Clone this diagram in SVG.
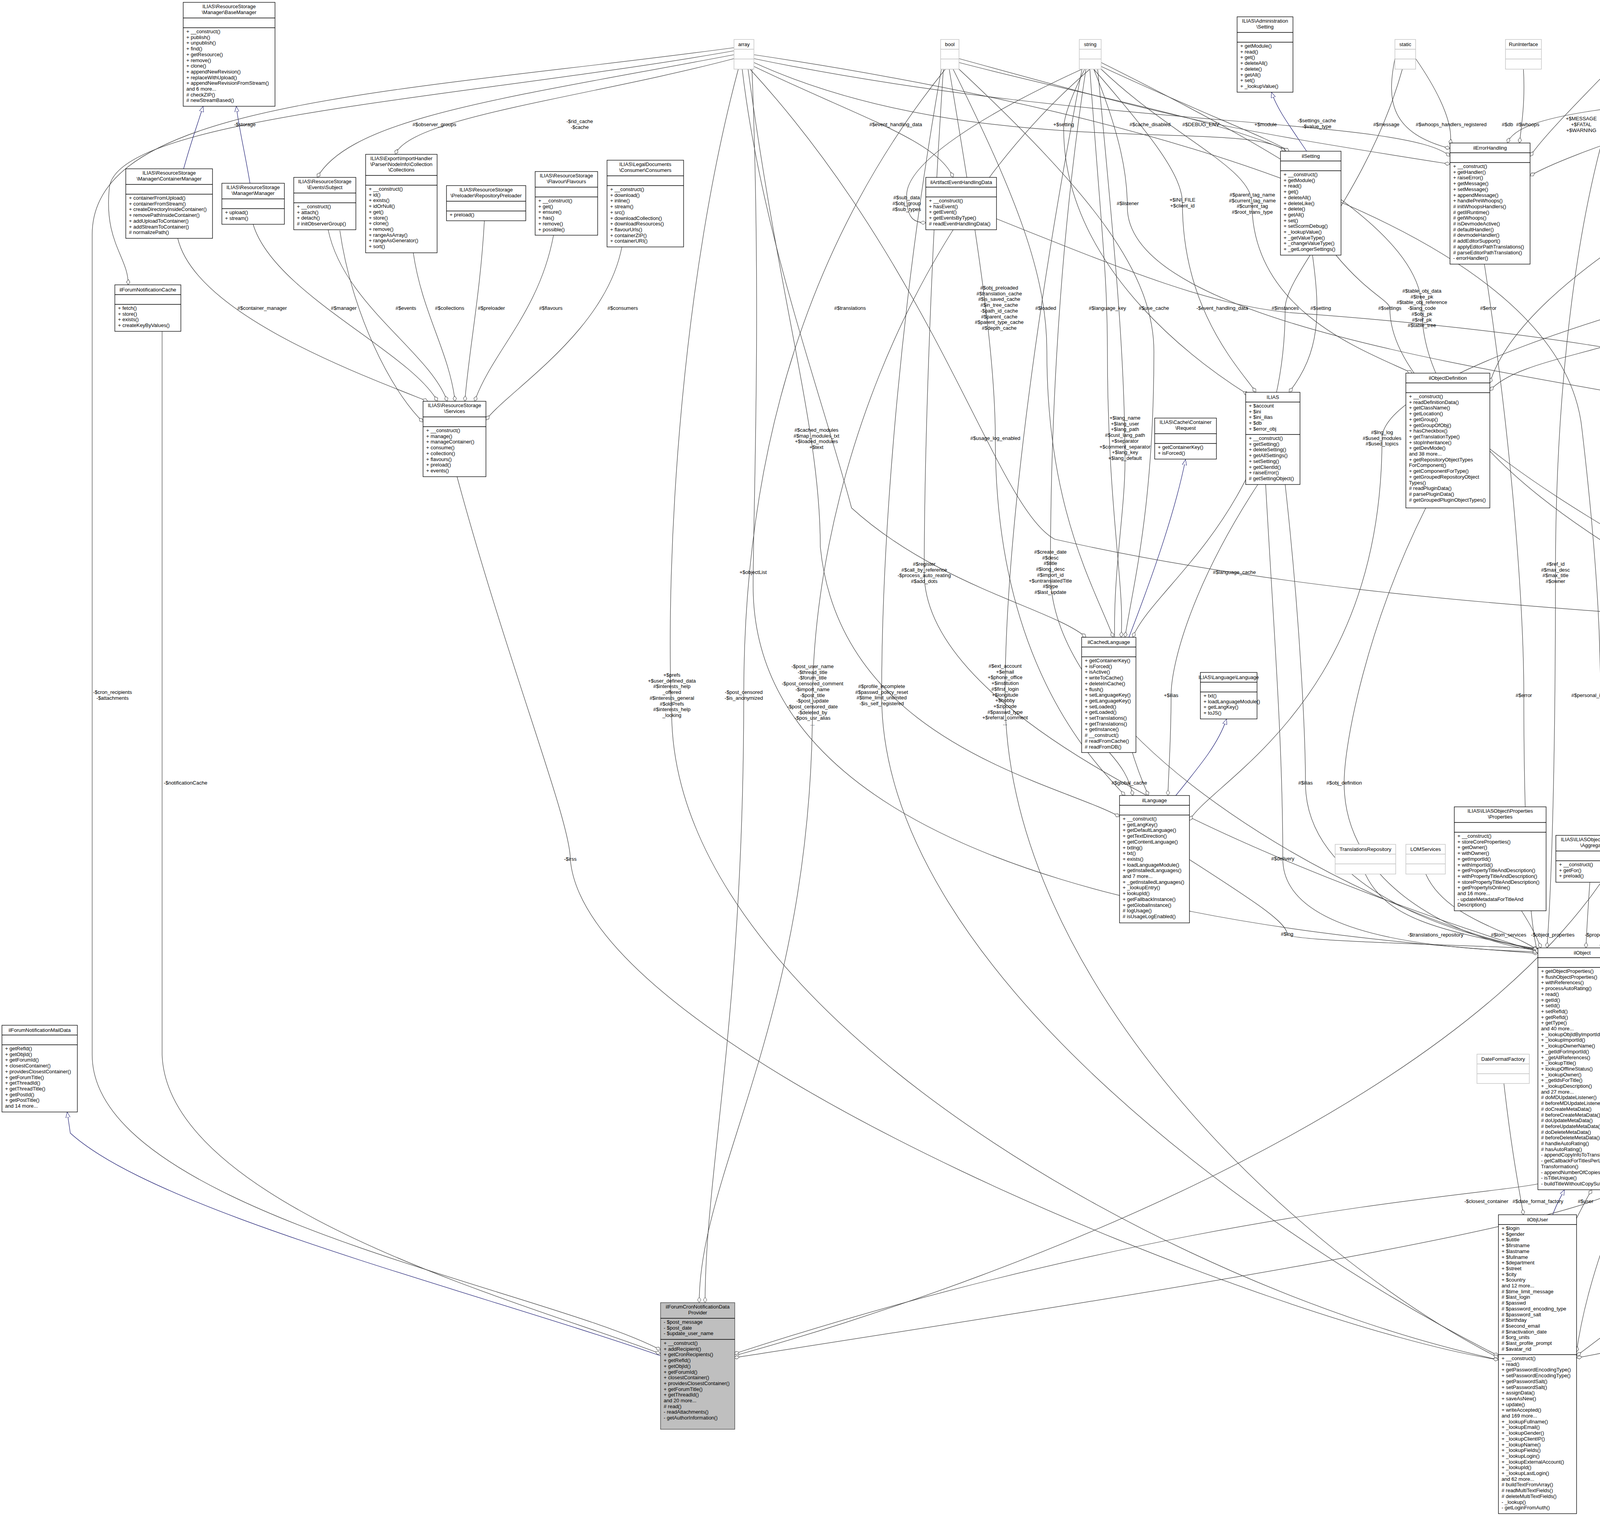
<svg xmlns="http://www.w3.org/2000/svg" width="5996" height="3880" viewBox="0 0 5996 3880">
<style>
.n{fill:#fff;stroke:#000;stroke-width:1.3}
.s{fill:#fff;stroke:#bfbfbf;stroke-width:1.3}
.g{fill:#bfbfbf;stroke:#404040;stroke-width:1.3}
.d{stroke:#000;stroke-width:1.3}
.ds{stroke:#bfbfbf;stroke-width:1.3}
text{font-family:"Liberation Sans",Arial,sans-serif;font-size:13px;fill:#000}
.c{text-anchor:middle}
.e{fill:none;stroke:#404040;stroke-width:1.2;marker-end:url(#dia)}
.i{fill:none;stroke:#191970;stroke-width:1.2;marker-end:url(#tri)}
</style>
<defs>
<marker id="dia" viewBox="0 0 14 10" refX="14" refY="5" markerWidth="14" markerHeight="10" markerUnits="userSpaceOnUse" orient="auto"><path d="M0,5 L7,0.5 L14,5 L7,9.5 z" fill="#fff" stroke="#404040" stroke-width="1"/></marker>
<marker id="tri" viewBox="0 0 14 12" refX="14" refY="6" markerWidth="14" markerHeight="12" markerUnits="userSpaceOnUse" orient="auto"><path d="M0,0.5 L14,6 L0,11.5 z" fill="#fff" stroke="#191970" stroke-width="1"/></marker>
</defs>
<rect x="0" y="0" width="5996" height="3880" fill="#fff"/>

<g id="connectors">
<path class="i" d="M470 432 C490 360 505 320 520 272"/>
<path class="i" d="M640 469 C625 380 610 320 605 272"/>
<path class="i" d="M3345 387 C3300 320 3270 280 3255 236"/>
<path class="i" d="M2890 1631 C2960 1450 3010 1300 3035 1176"/>
<path class="i" d="M3010 2036 C3080 1950 3120 1900 3140 1840"/>
<path class="i" d="M3975 3109 C3985 3080 3995 3065 4005 3045"/>
<path class="i" d="M1691 3470 C1200 3300 400 3100 180 2900 L172 2846"/>
<path class="e" d="M455 610 C500 800 900 950 1095 1027"/>
<path class="e" d="M648 574 C700 750 1050 900 1120 1027"/>
<path class="e" d="M840 588 C880 780 1100 900 1145 1027"/>
<path class="e" d="M1058 647 C1080 800 1150 900 1165 1027"/>
<path class="e" d="M1240 565 C1230 750 1200 900 1190 1027"/>
<path class="e" d="M1417 602 C1380 800 1260 900 1215 1027"/>
<path class="e" d="M1592 632 C1550 850 1300 1000 1244 1075"/>
<path class="e" d="M870 590 C900 800 1000 1000 1083 1080"/>
<path class="e" d="M1879 140 C1300 250 900 300 812 454"/>
<path class="e" d="M1879 150 C1500 250 1050 300 1012 395"/>
<path class="e" d="M1879 130 C1200 250 300 300 280 480 C265 620 330 660 328 729"/>
<path class="e" d="M1879 122 C1000 240 236 260 236 600 L236 2700 C236 3100 1400 3300 1691 3455"/>
<path class="e" d="M1930 170 C2200 300 2400 360 2440 454"/>
<path class="e" d="M1930 160 C2500 420 3200 300 3290 387"/>
<path class="e" d="M1930 150 C2800 330 3600 300 3712 400"/>
<path class="e" d="M1900 177 C1950 600 2100 1000 2180 1300 C2400 1500 2700 1560 2780 1631"/>
<path class="e" d="M1915 177 C2000 800 2100 1100 2100 1400 C2150 1900 2700 2000 2866 2090"/>
<path class="e" d="M1890 177 C1750 700 1700 1400 1720 1850 C1750 2600 3000 3300 3836 3480"/>
<path class="e" d="M1920 177 C2400 700 2550 1300 2700 1380 C3500 1560 4300 1560 4556 1610"/>
<path class="e" d="M1925 177 C1950 800 1928 1300 1928 1500 C1928 2300 3400 2400 3937 2440"/>
<path class="e" d="M2420 177 C2000 700 1904 1300 1904 1780 C1904 2600 1805 3000 1805 3334"/>
<path class="e" d="M2455 160 C2800 250 3100 300 3300 387"/>
<path class="e" d="M2440 177 C2600 500 2680 700 2680 900 C2680 1300 2800 1500 2850 1631"/>
<path class="e" d="M2455 177 C2800 500 2954 700 2954 900 C2954 1300 2900 1500 2880 1631"/>
<path class="e" d="M2430 177 C2500 600 2548 900 2548 1122 C2548 1700 2800 1950 2880 2036"/>
<path class="e" d="M2410 177 C2300 800 2257 1400 2257 1780 C2257 2500 3300 3200 3836 3470"/>
<path class="e" d="M2415 177 C2380 700 2366 1200 2366 1466 C2366 1900 3500 2300 3937 2436"/>
<path class="e" d="M2455 150 C3000 300 3074 320 3712 420"/>
<path class="e" d="M2790 177 C2300 600 2080 1300 2080 1800 C2080 2600 1790 3000 1790 3334"/>
<path class="e" d="M2819 170 C3100 300 3240 350 3300 387"/>
<path class="e" d="M2800 177 C2950 350 3027 450 3027 520 C3027 800 3180 950 3215 1004"/>
<path class="e" d="M2770 177 C2500 300 2321 420 2321 500 C2321 560 2340 570 2370 570"/>
<path class="e" d="M2790 177 C2820 600 2835 700 2835 900 C2835 1300 2880 1500 2870 1631"/>
<path class="e" d="M2810 177 C2850 600 2880 900 2880 1180 C2880 1400 2790 1700 2940 2036"/>
<path class="e" d="M2780 177 C2700 700 2689 1200 2689 1466 C2689 1900 3500 2350 3937 2432"/>
<path class="e" d="M2770 177 C2650 800 2573 1400 2573 1780 C2573 2500 3300 3200 3836 3475"/>
<path class="e" d="M2819 177 C3000 350 3205 430 3205 520 C3205 800 3500 900 3615 955"/>
<path class="e" d="M2819 160 C3300 400 3640 600 3640 790 C3640 1200 4300 1500 4556 1640"/>
<path class="e" d="M2800 177 C2870 350 2886 450 2886 530 C2886 900 4400 1000 4602 1110"/>
<path class="e" d="M2790 150 C2740 250 2723 300 2723 330 C2723 700 3100 950 3195 1010"/>
<path class="e" d="M3571 150 C3549 260 3560 340 3712 380"/>
<path class="e" d="M3624 150 C3700 260 3720 330 3712 370"/>
<path class="e" d="M3590 177 C3500 500 3290 700 3290 789 C3290 1300 2950 1500 2900 1631"/>
<path class="e" d="M3360 653 C3380 800 3381 900 3300 1004"/>
<path class="e" d="M3420 653 C3500 750 3558 770 3558 789 C3558 1100 4300 1450 4556 1600"/>
<path class="e" d="M2551 560 C2900 700 3100 780 3300 800 C4000 850 4600 950 4650 1070"/>
<path class="e" d="M3900 177 C3905 260 3895 320 3890 366"/>
<path class="e" d="M5589 140 C4500 260 3900 250 3859 366"/>
<path class="e" d="M4147 150 C4050 250 3950 350 3917 400"/>
<path class="e" d="M4991 150 C4400 250 4000 400 3917 450"/>
<path class="e" d="M5000 170 C4800 300 4700 350 4682 396"/>
<path class="e" d="M4991 160 C4500 400 3900 700 3814 980"/>
<path class="e" d="M5010 177 C5000 500 5010 700 5010 780 C5010 1300 4800 1500 4770 1589"/>
<path class="e" d="M5044 170 C5300 300 5345 450 5345 520 C5345 700 5320 850 5320 902"/>
<path class="e" d="M5044 160 C5400 250 5500 400 5500 520 C5500 700 5440 850 5440 902"/>
<path class="e" d="M5030 177 C5200 700 5277 1200 5277 1466 C5277 2000 4500 2400 4164 2560"/>
<path class="e" d="M5020 177 C5150 800 5144 1500 5144 1780 C5144 2600 4400 3200 4036 3470"/>
<path class="e" d="M5680 264 L5680 520 C5680 700 5526 850 5500 902"/>
<path class="e" d="M5805 264 C5805 800 5820 1200 5820 1371"/>
<path class="e" d="M5650 264 C5700 600 5717 700 5717 789 C5717 1300 5540 1500 5520 1655"/>
<path class="e" d="M5823 240 C5900 800 5970 1200 5970 1465 C5970 2400 4500 2700 4164 2720"/>
<path class="e" d="M5760 264 C5860 600 5875 700 5875 789 C5875 1200 4900 1500 4779 1620"/>
<path class="e" d="M4170 177 C4300 500 4380 700 4380 789 C4380 1300 4540 1450 4575 1589"/>
<path class="e" d="M4175 177 C4400 800 4461 1400 4461 1780 C4461 2600 4100 3000 4036 3460"/>
<path class="e" d="M4160 177 C4250 800 4262 1400 4262 1780 C4262 2700 2500 3300 1879 3470"/>
<path class="e" d="M4160 177 C4000 600 3982 1200 3982 1466 C3982 2000 3970 2300 3960 2426"/>
<path class="e" d="M1930 140 C3000 300 4000 600 4050 1100 C4097 1500 4097 1700 4097 1780 C4097 2200 4100 2350 4100 2426"/>
<path class="e" d="M4470 646 C4300 700 4249 750 4249 789 C4249 900 3900 900 3814 1000"/>
<path class="e" d="M4560 646 C4540 720 4538 760 4538 789 C4538 950 4640 1000 4650 1070"/>
<path class="e" d="M4800 567 C4740 650 4725 720 4725 789 C4725 950 4680 1000 4670 1070"/>
<path class="e" d="M4980 632 C4830 700 4806 750 4806 789 C4806 950 4700 1050 4690 1070"/>
<path class="e" d="M5050 632 C5300 700 5340 760 5340 789 C5340 850 5330 880 5330 902"/>
<path class="e" d="M5000 632 C4980 900 4973 1050 4973 1122 C4973 1500 4800 1600 4779 1650"/>
<path class="e" d="M5040 632 C5200 900 5273 1000 5273 1122 C5273 1400 5400 1550 5400 1655"/>
<path class="e" d="M5010 632 C4990 1200 4976 1500 4976 1780 C4976 2300 4300 2500 4164 2520"/>
<path class="e" d="M5020 632 C5010 1100 5012 1300 5012 1465 C5012 1600 4800 1680 4779 1700"/>
<path class="e" d="M4962 600 C4000 800 3538 1000 3538 1122 C3538 1800 3100 2000 3045 2100"/>
<path class="e" d="M4490 1234 C4600 1350 4629 1420 4629 1465 C4629 1530 4610 1570 4610 1589"/>
<path class="e" d="M4667 1175 C4700 1350 4717 1420 4717 1465 C4717 1530 4700 1570 4690 1589"/>
<path class="e" d="M4720 1175 C4800 1500 4689 1900 4689 2004 C4689 2300 4300 2400 4164 2440"/>
<path class="e" d="M5420 1344 C5425 1450 5430 1550 5430 1655"/>
<path class="e" d="M5400 1344 C5300 1600 5221 1900 5221 2004 C5221 2300 4400 2500 4164 2470"/>
<path class="e" d="M5420 1906 C5350 2050 5308 2150 5308 2198 C5308 2400 4500 2600 4164 2600"/>
<path class="e" d="M5820 1563 C5850 1900 5861 2100 5861 2198 C5861 2900 4500 3400 4036 3475"/>
<path class="e" d="M4620 1972 C4500 2100 4448 2150 4448 2198 C4448 2350 4250 2420 4164 2430"/>
<path class="e" d="M3650 1300 C3500 1600 3441 1900 3441 2004 C3441 2300 3800 2420 3937 2432"/>
<path class="e" d="M3220 1240 C3050 1500 2998 1700 2998 1780 C2998 1900 2990 2000 2990 2036"/>
<path class="e" d="M3290 1240 C3330 1600 3342 1900 3342 2004 C3342 2300 3800 2410 3937 2428"/>
<path class="e" d="M3240 1240 C3260 1600 3284 1900 3284 2198 C3284 2400 3700 2430 3937 2436"/>
<path class="e" d="M2840 1926 C2870 1960 2891 1990 2900 2036"/>
<path class="e" d="M3045 2200 C3200 2300 3295 2360 3295 2391 C3295 2410 3800 2420 3937 2428"/>
<path class="e" d="M3495 2237 C3550 2350 3675 2380 3937 2430"/>
<path class="e" d="M3650 2237 C3700 2350 3863 2380 3937 2432"/>
<path class="e" d="M3895 2331 C3920 2370 3935 2400 3945 2426"/>
<path class="e" d="M4070 2258 C4065 2330 4062 2380 4060 2426"/>
<path class="e" d="M3800 676 C3880 1200 3901 1600 3901 1780 C3901 2200 3920 2380 3937 2440"/>
<path class="e" d="M3937 3030 C3800 3060 3000 3100 1879 3465"/>
<path class="e" d="M3850 2773 C3870 2950 3890 3050 3900 3109"/>
<path class="e" d="M4030 3130 C4050 3090 4060 3070 4075 3045"/>
<path class="e" d="M4164 3000 C4300 3100 3000 3300 1879 3475"/>
<path class="e" d="M1170 1220 C1300 1700 1460 2100 1460 2199 C1500 2700 3300 3400 3836 3480"/>
<path class="e" d="M415 848 C415 1200 415 1800 415 2004 L415 2700 C430 3100 1400 3350 1691 3465"/>
</g>

<g id="labels">
<text class="c" x="627" y="323">-$storage</text>
<text class="c" x="1112" y="323">#$observer_groups</text>
<text class="c" x="1484" y="315">-$rid_cache<tspan x="1484" dy="15">-$cache</tspan></text>
<text class="c" x="671" y="793">#$container_manager</text>
<text class="c" x="880" y="793">#$manager</text>
<text class="c" x="1039" y="793">#$events</text>
<text class="c" x="1151" y="793">#$collections</text>
<text class="c" x="1258" y="793">#$preloader</text>
<text class="c" x="1410" y="793">#$flavours</text>
<text class="c" x="1594" y="793">#$consumers</text>
<text class="c" x="2293" y="323">#$event_handling_data</text>
<text class="c" x="2723" y="323">+$setting</text>
<text class="c" x="2944" y="323">#$cache_disabled</text>
<text class="c" x="3074" y="323">#$DEBUG_ENV</text>
<text class="c" x="3240" y="323">+$module</text>
<text class="c" x="3371" y="313">-$settings_cache<tspan x="3371" dy="15">-$value_type</tspan></text>
<text class="c" x="3549" y="323">#$message</text>
<text class="c" x="3715" y="323">#$whoops_handlers_registered</text>
<text class="c" x="3859" y="323">#$db</text>
<text class="c" x="3911" y="323">#$whoops</text>
<text class="c" x="4048" y="308">+$MESSAGE<tspan x="4048" dy="15">+$FATAL</tspan><tspan x="4048" dy="15">+$WARNING</tspan></text>
<text class="c" x="4309" y="315">-SENSITIVE_PARAMETER<tspan x="4309" dy="15">_NAMES</tspan></text>
<text class="c" x="4809" y="323">+PLUGIN_BASE_PATH</text>
<text class="c" x="4370" y="512">+MODE_REPOSITORY<tspan x="4370" dy="15">+MODE_ADMINISTRATION</tspan><tspan x="4370" dy="15">+MODE_WORKSPACE</tspan></text>
<text class="c" x="5345" y="510">#$is_assigned_cache<tspan x="5345" dy="15">-$_opsCache</tspan><tspan x="5345" dy="15">#$assigned_users_cache</tspan></text>
<text class="c" x="5500" y="487">+FILTER_NOT_INTERNAL<tspan x="5500" dy="15">+FILTER_ALL_GLOBAL</tspan><tspan x="5500" dy="15">+FILTER_ALL</tspan><tspan x="5500" dy="15">+FILTER_INTERNAL</tspan><tspan x="5500" dy="15">+FILTER_TEMPLATES</tspan><tspan x="5500" dy="15">+FILTER_ALL_LOCAL</tspan></text>
<text class="c" x="5680" y="524">#$db</text>
<text class="c" x="5805" y="524">+TABLE_NAME</text>
<text class="c" x="2321" y="510">#$sub_data<tspan x="2321" dy="15">#$obj_group</tspan><tspan x="2321" dy="15">#$sub_types</tspan></text>
<text class="c" x="2887" y="525">#$listener</text>
<text class="c" x="3027" y="516">+$INI_FILE<tspan x="3027" dy="15">+$client_id</tspan></text>
<text class="c" x="3206" y="503">#$parent_tag_name<tspan x="3206" dy="14.7">#$current_tag_name</tspan><tspan x="3206" dy="14.7">#$current_tag</tspan><tspan x="3206" dy="14.7">#$root_trans_type</tspan></text>
<text class="c" x="2176" y="793">#$translations</text>
<text class="c" x="2558" y="741">#$obj_preloaded<tspan x="2558" dy="14.7">#$translation_cache</tspan><tspan x="2558" dy="14.7">#$is_saved_cache</tspan><tspan x="2558" dy="14.7">#$in_tree_cache</tspan><tspan x="2558" dy="14.7">-$path_id_cache</tspan><tspan x="2558" dy="14.7">#$parent_cache</tspan><tspan x="2558" dy="14.7">#$parent_type_cache</tspan><tspan x="2558" dy="14.7">#$depth_cache</tspan></text>
<text class="c" x="2677" y="793">#$loaded</text>
<text class="c" x="2835" y="793">#$language_key</text>
<text class="c" x="2954" y="793">#$use_cache</text>
<text class="c" x="3129" y="793">-$event_handling_data</text>
<text class="c" x="3290" y="793">#$instances</text>
<text class="c" x="3381" y="793">#$setting</text>
<text class="c" x="3558" y="793">#$settings</text>
<text class="c" x="3640" y="749">#$table_obj_data<tspan x="3640" dy="14.7">#$tree_pk</tspan><tspan x="3640" dy="14.7">#$table_obj_reference</tspan><tspan x="3640" dy="14.7">-$lang_code</tspan><tspan x="3640" dy="14.7">#$obj_pk</tspan><tspan x="3640" dy="14.7">#$ref_pk</tspan><tspan x="3640" dy="14.7">#$table_tree</tspan></text>
<text class="c" x="3810" y="793">#$error</text>
<text class="c" x="4249" y="793">#$component_repository</text>
<text class="c" x="4380" y="778">#$tree_id<tspan x="4380" dy="15">-$gap</tspan><tspan x="4380" dy="15">#$root_id</tspan></text>
<text class="c" x="4538" y="793">#$component_repository</text>
<text class="c" x="4725" y="793">#$component_factory</text>
<text class="c" x="4806" y="793">#$logger</text>
<text class="c" x="5010" y="712">+TREE_TYPE_NESTED_SET<tspan x="5010" dy="14.7">+RELATION_PARENT</tspan><tspan x="5010" dy="14.7">+RELATION_CHILD</tspan><tspan x="5010" dy="14.7">+TREE_TYPE_MATERIALIZED</tspan><tspan x="5010" dy="14.7">_PATH</tspan><tspan x="5010" dy="14.7">#DEFAULT_LANGUAGE</tspan><tspan x="5010" dy="14.7">+RELATION_SIBLING</tspan><tspan x="5010" dy="14.7">+POS_FIRST_NODE</tspan><tspan x="5010" dy="14.7">+RELATION_EQUALS</tspan><tspan x="5010" dy="14.7">+POS_LAST_NODE</tspan><tspan x="5010" dy="14.7">+RELATION_NONE</tspan><tspan x="5010" dy="14.7">...</tspan></text>
<text class="c" x="5340" y="793">#$log</text>
<text class="c" x="5717" y="793">#$db</text>
<text class="c" x="5875" y="793">#$db</text>
<text class="c" x="2090" y="1105">#$cached_modules<tspan x="2090" dy="14.7">#$map_modules_txt</tspan><tspan x="2090" dy="14.7">+$loaded_modules</tspan><tspan x="2090" dy="14.7">+$text</tspan></text>
<text class="c" x="2548" y="1126">#$usage_log_enabled</text>
<text class="c" x="2880" y="1074">+$lang_name<tspan x="2880" dy="14.7">+$lang_user</tspan><tspan x="2880" dy="14.7">+$lang_path</tspan><tspan x="2880" dy="14.7">#$cust_lang_path</tspan><tspan x="2880" dy="14.7">+$separator</tspan><tspan x="2880" dy="14.7">+$comment_separator</tspan><tspan x="2880" dy="14.7">+$lang_key</tspan><tspan x="2880" dy="14.7">+$lang_default</tspan></text>
<text class="c" x="3538" y="1111">#$lng_log<tspan x="3538" dy="14.7">#$used_modules</tspan><tspan x="3538" dy="14.7">#$used_topics</tspan></text>
<text class="c" x="4973" y="1126">#$logger</text>
<text class="c" x="5273" y="1126">#$logger</text>
<text class="c" x="1928" y="1469">+$objectList</text>
<text class="c" x="2366" y="1448">#$register<tspan x="2366" dy="14.7">#$call_by_reference</tspan><tspan x="2366" dy="14.7">-$process_auto_reating</tspan><tspan x="2366" dy="14.7">#$add_dots</tspan></text>
<text class="c" x="2689" y="1417">#$create_date<tspan x="2689" dy="14.7">#$desc</tspan><tspan x="2689" dy="14.7">#$title</tspan><tspan x="2689" dy="14.7">#$long_desc</tspan><tspan x="2689" dy="14.7">#$import_id</tspan><tspan x="2689" dy="14.7">+$untranslatedTitle</tspan><tspan x="2689" dy="14.7">#$type</tspan><tspan x="2689" dy="14.7">#$last_update</tspan></text>
<text class="c" x="3160" y="1469">#$language_cache</text>
<text class="c" x="3982" y="1448">#$ref_id<tspan x="3982" dy="14.7">#$max_desc</tspan><tspan x="3982" dy="14.7">#$max_title</tspan><tspan x="3982" dy="14.7">#$owner</tspan></text>
<text class="c" x="4629" y="1469">-$tree_impl</text>
<text class="c" x="4717" y="1469">#$eventHandler</text>
<text class="c" x="5012" y="1469">#$log</text>
<text class="c" x="5277" y="1448">+TABLE_OBJECT_DATA<tspan x="5277" dy="14.7">+LONG_DESC_LENGTH</tspan><tspan x="5277" dy="14.7">+TITLE_LENGTH</tspan><tspan x="5277" dy="14.7">+DESC_LENGTH</tspan></text>
<text class="c" x="5476" y="1469">#$rbacreview</text>
<text class="c" x="5970" y="1469">#$db</text>
<text class="c" x="288" y="1776">-$cron_recipients<tspan x="288" dy="15">-$attachments</tspan></text>
<text class="c" x="1720" y="1732">+$prefs<tspan x="1720" dy="14.7">+$user_defined_data</tspan><tspan x="1720" dy="14.7">#$interests_help</tspan><tspan x="1720" dy="14.7">_offered</tspan><tspan x="1720" dy="14.7">#$interests_general</tspan><tspan x="1720" dy="14.7">#$oldPrefs</tspan><tspan x="1720" dy="14.7">#$interests_help</tspan><tspan x="1720" dy="14.7">_looking</tspan></text>
<text class="c" x="1904" y="1776">-$post_censored<tspan x="1904" dy="15">-$is_anonymized</tspan></text>
<text class="c" x="2080" y="1710">-$post_user_name<tspan x="2080" dy="14.7">-$thread_title</tspan><tspan x="2080" dy="14.7">-$forum_title</tspan><tspan x="2080" dy="14.7">-$post_censored_comment</tspan><tspan x="2080" dy="14.7">-$import_name</tspan><tspan x="2080" dy="14.7">-$post_title</tspan><tspan x="2080" dy="14.7">-$post_update</tspan><tspan x="2080" dy="14.7">-$post_censored_date</tspan><tspan x="2080" dy="14.7">-$deleted_by</tspan><tspan x="2080" dy="14.7">-$pos_usr_alias</tspan><tspan x="2080" dy="14.7">...</tspan></text>
<text class="c" x="2257" y="1761">#$profile_incomplete<tspan x="2257" dy="14.7">#$passwd_policy_reset</tspan><tspan x="2257" dy="14.7">#$time_limit_unlimited</tspan><tspan x="2257" dy="14.7">-$is_self_registered</tspan></text>
<text class="c" x="2573" y="1709">#$ext_account<tspan x="2573" dy="14.7">+$email</tspan><tspan x="2573" dy="14.7">+$phone_office</tspan><tspan x="2573" dy="14.7">+$institution</tspan><tspan x="2573" dy="14.7">#$first_login</tspan><tspan x="2573" dy="14.7">+$longitude</tspan><tspan x="2573" dy="14.7">+$hobby</tspan><tspan x="2573" dy="14.7">+$zipcode</tspan><tspan x="2573" dy="14.7">#$passwd_type</tspan><tspan x="2573" dy="14.7">+$referral_comment</tspan><tspan x="2573" dy="14.7">...</tspan></text>
<text class="c" x="2998" y="1784">+$ilias</text>
<text class="c" x="3901" y="1784">#$error</text>
<text class="c" x="4097" y="1784">#$personal_image_cache</text>
<text class="c" x="4262" y="1717">-$pos_display_user<tspan x="4262" dy="14.7">_id</tspan><tspan x="4262" dy="14.7">-$thread_id</tspan><tspan x="4262" dy="14.7">-$post_id</tspan><tspan x="4262" dy="14.7">-$obj_id</tspan><tspan x="4262" dy="14.7">-$forum_id</tspan><tspan x="4262" dy="14.7">-$post_update</tspan><tspan x="4262" dy="14.7">_user_id</tspan><tspan x="4262" dy="14.7">-$ref_id</tspan><tspan x="4262" dy="14.7">-$pos_author_id</tspan></text>
<text class="c" x="4461" y="1747">#$time_limit_owner<tspan x="4461" dy="14.7">+$active</tspan><tspan x="4461" dy="14.7">#$time_limit_from</tspan><tspan x="4461" dy="14.7">#$time_limit_until</tspan><tspan x="4461" dy="14.7">-$login_attempts</tspan><tspan x="4461" dy="14.7">+$last_password_change_ts</tspan></text>
<text class="c" x="4976" y="1776">#$obj_log<tspan x="4976" dy="15">#$log</tspan></text>
<text class="c" x="5144" y="1768">+PASSWD_CRYPTED<tspan x="5144" dy="15">+NO_AVATAR_RID</tspan><tspan x="5144" dy="15">+PASSWD_PLAIN</tspan></text>
<text class="c" x="475" y="2008">-$notificationCache</text>
<text class="c" x="2891" y="2008">#$global_cache</text>
<text class="c" x="3342" y="2008">#$ilias</text>
<text class="c" x="3441" y="2008">#$obj_definition</text>
<text class="c" x="4689" y="2008">#$app_event_handler</text>
<text class="c" x="5221" y="2008">#$rbac_review</text>
<text class="c" x="1460" y="2203">-$irss</text>
<text class="c" x="3284" y="2202">#$delivery</text>
<text class="c" x="4448" y="2202">#$tree</text>
<text class="c" x="5308" y="2202">#$rbac_admin</text>
<text class="c" x="5861" y="2194">-$cron_delete_user<tspan x="5861" dy="15">_reminder_mail</tspan></text>
<text class="c" x="3295" y="2395">#$lng</text>
<text class="c" x="3675" y="2397">-$translations_repository</text>
<text class="c" x="3862" y="2397">#$lom_services</text>
<text class="c" x="3975" y="2397">-$object_properties</text>
<text class="c" x="4127" y="2397">-$properties_aggregator</text>
<text class="c" x="3805" y="3079">-$closest_container</text>
<text class="c" x="3937" y="3079">#$date_format_factory</text>
<text class="c" x="4059" y="3079">#$user</text>
</g>

<g id="BaseManager"><rect class="n" x="469" y="6" width="235" height="266"/><line class="d" x1="469" y1="46" x2="704" y2="46"/><line class="d" x1="469" y1="71" x2="704" y2="71"/>
<text class="c" x="586.5" y="21">ILIAS\ResourceStorage<tspan x="586.5" dy="14.7">\Manager\BaseManager</tspan></text>
<text x="477" y="85"><tspan x="477">+ __construct()</tspan><tspan x="477" dy="14.7">+ publish()</tspan><tspan x="477" dy="14.7">+ unpublish()</tspan><tspan x="477" dy="14.7">+ find()</tspan><tspan x="477" dy="14.7">+ getResource()</tspan><tspan x="477" dy="14.7">+ remove()</tspan><tspan x="477" dy="14.7">+ clone()</tspan><tspan x="477" dy="14.7">+ appendNewRevision()</tspan><tspan x="477" dy="14.7">+ replaceWithUpload()</tspan><tspan x="477" dy="14.7">+ appendNewRevisionFromStream()</tspan><tspan x="477" dy="14.7">and 6 more...</tspan><tspan x="477" dy="14.7"># checkZIP()</tspan><tspan x="477" dy="14.7"># newStreamBased()</tspan></text></g>

<g id="ContainerManager"><rect class="n" x="322" y="432" width="222" height="178"/><line class="d" x1="322" y1="472" x2="544" y2="472"/><line class="d" x1="322" y1="497" x2="544" y2="497"/>
<text class="c" x="433" y="447">ILIAS\ResourceStorage<tspan x="433" dy="14.7">\Manager\ContainerManager</tspan></text>
<text x="330" y="511"><tspan x="330">+ containerFromUpload()</tspan><tspan x="330" dy="14.7">+ containerFromStream()</tspan><tspan x="330" dy="14.7">+ createDirectoryInsideContainer()</tspan><tspan x="330" dy="14.7">+ removePathInsideContainer()</tspan><tspan x="330" dy="14.7">+ addUploadToContainer()</tspan><tspan x="330" dy="14.7">+ addStreamToContainer()</tspan><tspan x="330" dy="14.7"># normalizePath()</tspan></text></g>

<g id="Manager"><rect class="n" x="568" y="469" width="160" height="105"/><line class="d" x1="568" y1="509" x2="728" y2="509"/><line class="d" x1="568" y1="534" x2="728" y2="534"/>
<text class="c" x="648" y="484">ILIAS\ResourceStorage<tspan x="648" dy="14.7">\Manager\Manager</tspan></text>
<text x="576" y="548"><tspan x="576">+ upload()</tspan><tspan x="576" dy="14.7">+ stream()</tspan></text></g>

<g id="Subject"><rect class="n" x="752" y="454" width="159" height="134"/><line class="d" x1="752" y1="494" x2="911" y2="494"/><line class="d" x1="752" y1="519" x2="911" y2="519"/>
<text class="c" x="831.5" y="469">ILIAS\ResourceStorage<tspan x="831.5" dy="14.7">\Events\Subject</tspan></text>
<text x="760" y="533"><tspan x="760">+ __construct()</tspan><tspan x="760" dy="14.7">+ attach()</tspan><tspan x="760" dy="14.7">+ detach()</tspan><tspan x="760" dy="14.7"># initObserverGroup()</tspan></text></g>

<g id="Collections"><rect class="n" x="936" y="395" width="183" height="252"/><line class="d" x1="936" y1="449" x2="1119" y2="449"/><line class="d" x1="936" y1="474" x2="1119" y2="474"/>
<text class="c" x="1027.5" y="410">ILIAS\Export\ImportHandler<tspan x="1027.5" dy="14.7">\Parser\NodeInfo\Collection</tspan><tspan x="1027.5" dy="14.7">\Collections</tspan></text>
<text x="944" y="488"><tspan x="944">+ __construct()</tspan><tspan x="944" dy="14.7">+ id()</tspan><tspan x="944" dy="14.7">+ exists()</tspan><tspan x="944" dy="14.7">+ idOrNull()</tspan><tspan x="944" dy="14.7">+ get()</tspan><tspan x="944" dy="14.7">+ store()</tspan><tspan x="944" dy="14.7">+ clone()</tspan><tspan x="944" dy="14.7">+ remove()</tspan><tspan x="944" dy="14.7">+ rangeAsArray()</tspan><tspan x="944" dy="14.7">+ rangeAsGenerator()</tspan><tspan x="944" dy="14.7">+ sort()</tspan></text></g>

<g id="RepositoryPreloader"><rect class="n" x="1143" y="475" width="203" height="90"/><line class="d" x1="1143" y1="515" x2="1346" y2="515"/><line class="d" x1="1143" y1="540" x2="1346" y2="540"/>
<text class="c" x="1244.5" y="490">ILIAS\ResourceStorage<tspan x="1244.5" dy="14.7">\Preloader\RepositoryPreloader</tspan></text>
<text x="1151" y="554">+ preload()</text></g>

<g id="Flavours"><rect class="n" x="1370" y="439" width="160" height="163"/><line class="d" x1="1370" y1="479" x2="1530" y2="479"/><line class="d" x1="1370" y1="504" x2="1530" y2="504"/>
<text class="c" x="1450" y="454">ILIAS\ResourceStorage<tspan x="1450" dy="14.7">\Flavour\Flavours</tspan></text>
<text x="1378" y="518"><tspan x="1378">+ __construct()</tspan><tspan x="1378" dy="14.7">+ get()</tspan><tspan x="1378" dy="14.7">+ ensure()</tspan><tspan x="1378" dy="14.7">+ has()</tspan><tspan x="1378" dy="14.7">+ remove()</tspan><tspan x="1378" dy="14.7">+ possible()</tspan></text></g>

<g id="Consumers"><rect class="n" x="1554" y="410" width="196" height="222"/><line class="d" x1="1554" y1="450" x2="1750" y2="450"/><line class="d" x1="1554" y1="475" x2="1750" y2="475"/>
<text class="c" x="1652" y="425">ILIAS\LegalDocuments<tspan x="1652" dy="14.7">\Consumer\Consumers</tspan></text>
<text x="1562" y="489"><tspan x="1562">+ __construct()</tspan><tspan x="1562" dy="14.7">+ download()</tspan><tspan x="1562" dy="14.7">+ inline()</tspan><tspan x="1562" dy="14.7">+ stream()</tspan><tspan x="1562" dy="14.7">+ src()</tspan><tspan x="1562" dy="14.7">+ downloadCollection()</tspan><tspan x="1562" dy="14.7">+ downloadResources()</tspan><tspan x="1562" dy="14.7">+ flavourUrls()</tspan><tspan x="1562" dy="14.7">+ containerZIP()</tspan><tspan x="1562" dy="14.7">+ containerURI()</tspan></text></g>

<g id="ilForumNotificationCache"><rect class="n" x="294" y="729" width="169" height="119"/><line class="d" x1="294" y1="754" x2="463" y2="754"/><line class="d" x1="294" y1="779" x2="463" y2="779"/>
<text class="c" x="378.5" y="746">ilForumNotificationCache</text>
<text x="302" y="793"><tspan x="302">+ fetch()</tspan><tspan x="302" dy="14.7">+ store()</tspan><tspan x="302" dy="14.7">+ exists()</tspan><tspan x="302" dy="14.7">+ createKeyByValues()</tspan></text></g>

<g id="Services"><rect class="n" x="1083" y="1027" width="161" height="193"/><line class="d" x1="1083" y1="1067" x2="1244" y2="1067"/><line class="d" x1="1083" y1="1092" x2="1244" y2="1092"/>
<text class="c" x="1163.5" y="1042">ILIAS\ResourceStorage<tspan x="1163.5" dy="14.7">\Services</tspan></text>
<text x="1091" y="1106"><tspan x="1091">+ __construct()</tspan><tspan x="1091" dy="14.7">+ manage()</tspan><tspan x="1091" dy="14.7">+ manageContainer()</tspan><tspan x="1091" dy="14.7">+ consume()</tspan><tspan x="1091" dy="14.7">+ collection()</tspan><tspan x="1091" dy="14.7">+ flavours()</tspan><tspan x="1091" dy="14.7">+ preload()</tspan><tspan x="1091" dy="14.7">+ events()</tspan></text></g>

<g id="array"><rect class="s" x="1879" y="101" width="51" height="76"/><line class="ds" x1="1879" y1="126" x2="1930" y2="126"/><line class="ds" x1="1879" y1="151" x2="1930" y2="151"/><text class="c" x="1904.5" y="118">array</text></g>
<g id="bool"><rect class="s" x="2408" y="101" width="47" height="76"/><line class="ds" x1="2408" y1="126" x2="2455" y2="126"/><line class="ds" x1="2408" y1="151" x2="2455" y2="151"/><text class="c" x="2431.5" y="118">bool</text></g>
<g id="string"><rect class="s" x="2763" y="101" width="56" height="76"/><line class="ds" x1="2763" y1="126" x2="2819" y2="126"/><line class="ds" x1="2763" y1="151" x2="2819" y2="151"/><text class="c" x="2791" y="118">string</text></g>
<g id="static"><rect class="s" x="3571" y="101" width="53" height="76"/><line class="ds" x1="3571" y1="126" x2="3624" y2="126"/><line class="ds" x1="3571" y1="151" x2="3624" y2="151"/><text class="c" x="3597.5" y="118">static</text></g>
<g id="RunInterface"><rect class="s" x="3854" y="101" width="92" height="76"/><line class="ds" x1="3854" y1="126" x2="3946" y2="126"/><line class="ds" x1="3854" y1="151" x2="3946" y2="151"/><text class="c" x="3900" y="118">RunInterface</text></g>
<g id="int"><rect class="s" x="4147" y="101" width="36" height="76"/><line class="ds" x1="4147" y1="126" x2="4183" y2="126"/><line class="ds" x1="4147" y1="151" x2="4183" y2="151"/><text class="c" x="4165" y="118">int</text></g>
<g id="const"><rect class="s" x="4991" y="101" width="53" height="76"/><line class="ds" x1="4991" y1="126" x2="5044" y2="126"/><line class="ds" x1="4991" y1="151" x2="5044" y2="151"/><text class="c" x="5017.5" y="118">const</text></g>

<g id="AdminSetting"><rect class="n" x="3167" y="43" width="143" height="193"/><line class="d" x1="3167" y1="83" x2="3310" y2="83"/><line class="d" x1="3167" y1="108" x2="3310" y2="108"/>
<text class="c" x="3238.5" y="58">ILIAS\Administration<tspan x="3238.5" dy="14.7">\Setting</tspan></text>
<text x="3175" y="122"><tspan x="3175">+ getModule()</tspan><tspan x="3175" dy="14.7">+ read()</tspan><tspan x="3175" dy="14.7">+ get()</tspan><tspan x="3175" dy="14.7">+ deleteAll()</tspan><tspan x="3175" dy="14.7">+ delete()</tspan><tspan x="3175" dy="14.7">+ getAll()</tspan><tspan x="3175" dy="14.7">+ set()</tspan><tspan x="3175" dy="14.7">+ _lookupValue()</tspan></text></g>

<g id="ilSetting"><rect class="n" x="3278" y="387" width="155" height="266"/><line class="d" x1="3278" y1="412" x2="3433" y2="412"/><line class="d" x1="3278" y1="437" x2="3433" y2="437"/>
<text class="c" x="3355.5" y="404">ilSetting</text>
<text x="3286" y="451"><tspan x="3286">+ __construct()</tspan><tspan x="3286" dy="14.7">+ getModule()</tspan><tspan x="3286" dy="14.7">+ read()</tspan><tspan x="3286" dy="14.7">+ get()</tspan><tspan x="3286" dy="14.7">+ deleteAll()</tspan><tspan x="3286" dy="14.7">+ deleteLike()</tspan><tspan x="3286" dy="14.7">+ delete()</tspan><tspan x="3286" dy="14.7">+ getAll()</tspan><tspan x="3286" dy="14.7">+ set()</tspan><tspan x="3286" dy="14.7">+ setScormDebug()</tspan><tspan x="3286" dy="14.7">+ _lookupValue()</tspan><tspan x="3286" dy="14.7">+ _getValueType()</tspan><tspan x="3286" dy="14.7">+ _changeValueType()</tspan><tspan x="3286" dy="14.7">+ _getLongerSettings()</tspan></text></g>

<g id="ilArtifactEventHandlingData"><rect class="n" x="2370" y="454" width="181" height="134"/><line class="d" x1="2370" y1="479" x2="2551" y2="479"/><line class="d" x1="2370" y1="504" x2="2551" y2="504"/>
<text class="c" x="2460.5" y="471">ilArtifactEventHandlingData</text>
<text x="2378" y="518"><tspan x="2378">+ __construct()</tspan><tspan x="2378" dy="14.7">+ hasEvent()</tspan><tspan x="2378" dy="14.7">+ getEvent()</tspan><tspan x="2378" dy="14.7">+ getEventsByType()</tspan><tspan x="2378" dy="14.7"># readEventHandlingData()</tspan></text></g>

<g id="ilErrorHandling"><rect class="n" x="3712" y="366" width="205" height="310"/><line class="d" x1="3712" y1="391" x2="3917" y2="391"/><line class="d" x1="3712" y1="416" x2="3917" y2="416"/>
<text class="c" x="3814.5" y="383">ilErrorHandling</text>
<text x="3720" y="430"><tspan x="3720">+ __construct()</tspan><tspan x="3720" dy="14.7">+ getHandler()</tspan><tspan x="3720" dy="14.7">+ raiseError()</tspan><tspan x="3720" dy="14.7">+ getMessage()</tspan><tspan x="3720" dy="14.7">+ setMessage()</tspan><tspan x="3720" dy="14.7">+ appendMessage()</tspan><tspan x="3720" dy="14.7">+ handlePreWhoops()</tspan><tspan x="3720" dy="14.7"># initWhoopsHandlers()</tspan><tspan x="3720" dy="14.7"># getIlRuntime()</tspan><tspan x="3720" dy="14.7"># getWhoops()</tspan><tspan x="3720" dy="14.7"># isDevmodeActive()</tspan><tspan x="3720" dy="14.7"># defaultHandler()</tspan><tspan x="3720" dy="14.7"># devmodeHandler()</tspan><tspan x="3720" dy="14.7"># addEditorSupport()</tspan><tspan x="3720" dy="14.7"># applyEditorPathTranslations()</tspan><tspan x="3720" dy="14.7"># parseEditorPathTranslation()</tspan><tspan x="3720" dy="14.7">- errorHandler()</tspan></text></g>

<g id="ilComponentRepository"><rect class="n" x="4458" y="396" width="230" height="251"/><line class="d" x1="4458" y1="421" x2="4688" y2="421"/><line class="d" x1="4458" y1="446" x2="4688" y2="446"/>
<text class="c" x="4573" y="413">ilComponentRepository</text>
<text x="4466" y="460"><tspan x="4466">+ hasComponent()</tspan><tspan x="4466" dy="14.7">+ hasComponentId()</tspan><tspan x="4466" dy="14.7">+ getComponents()</tspan><tspan x="4466" dy="14.7">+ getComponentById()</tspan><tspan x="4466" dy="14.7">+ getComponentByTypeAndName()</tspan><tspan x="4466" dy="14.7">+ hasPluginSlotId()</tspan><tspan x="4466" dy="14.7">+ getPluginSlots()</tspan><tspan x="4466" dy="14.7">+ getPluginSlotById()</tspan><tspan x="4466" dy="14.7">+ hasPluginId()</tspan><tspan x="4466" dy="14.7">+ getPlugins()</tspan><tspan x="4466" dy="14.7">+ getPluginById()</tspan><tspan x="4466" dy="14.7">+ getPluginByName()</tspan><tspan x="4466" dy="14.7">+ hasActivatedPlugin()</tspan></text></g>

<g id="ilComponentFactory"><rect class="n" x="4713" y="477" width="173" height="90"/><line class="d" x1="4713" y1="502" x2="4886" y2="502"/><line class="d" x1="4713" y1="527" x2="4886" y2="527"/>
<text class="c" x="4799.5" y="494">ilComponentFactory</text>
<text x="4721" y="541"><tspan x="4721">+ getPlugin()</tspan><tspan x="4721" dy="14.7">+ getActivePluginsInSlot()</tspan></text></g>

<g id="ilLogger"><rect class="n" x="4962" y="410" width="111" height="222"/><line class="d" x1="4962" y1="435" x2="5073" y2="435"/><line class="d" x1="4962" y1="460" x2="5073" y2="460"/>
<text class="c" x="5017.5" y="427">ilLogger</text>
<text x="4970" y="474"><tspan x="4970">+ __construct()</tspan><tspan x="4970" dy="14.7">+ isHandling()</tspan><tspan x="4970" dy="14.7">+ log()</tspan><tspan x="4970" dy="14.7">+ dump()</tspan><tspan x="4970" dy="14.7">+ debug()</tspan><tspan x="4970" dy="14.7">+ info()</tspan><tspan x="4970" dy="14.7">+ notice()</tspan><tspan x="4970" dy="14.7">+ warning()</tspan><tspan x="4970" dy="14.7">+ error()</tspan><tspan x="4970" dy="14.7">+ critical()</tspan><tspan x="4970" dy="14.7">and 7 more...</tspan></text></g>

<g id="ilDBInterface"><rect class="n" x="5589" y="13" width="234" height="251"/><line class="d" x1="5589" y1="38" x2="5823" y2="38"/><line class="d" x1="5589" y1="63" x2="5823" y2="63"/>
<text class="c" x="5706" y="30">ilDBInterface</text>
<text x="5597" y="77"><tspan x="5597">+ doesCollationSupportMB4Strings()</tspan><tspan x="5597" dy="14.7">+ sanitizeMB4StringIfNotSupported()</tspan><tspan x="5597" dy="14.7">+ initFromIniFile()</tspan><tspan x="5597" dy="14.7">+ connect()</tspan><tspan x="5597" dy="14.7">+ nextId()</tspan><tspan x="5597" dy="14.7">+ createTable()</tspan><tspan x="5597" dy="14.7">+ addPrimaryKey()</tspan><tspan x="5597" dy="14.7">+ createSequence()</tspan><tspan x="5597" dy="14.7">+ getSequenceName()</tspan><tspan x="5597" dy="14.7">+ tableExists()</tspan><tspan x="5597" dy="14.7">and 78 more...</tspan><tspan x="5597" dy="14.7">+ getReservedWords()</tspan><tspan x="5597" dy="14.7">+ isReservedWord()</tspan></text></g>

<g id="ilObjectDefinition"><rect class="n" x="3599" y="955" width="215" height="345"/><line class="d" x1="3599" y1="980" x2="3814" y2="980"/><line class="d" x1="3599" y1="1005" x2="3814" y2="1005"/>
<text class="c" x="3706.5" y="972">ilObjectDefinition</text>
<text x="3607" y="1019"><tspan x="3607">+ __construct()</tspan><tspan x="3607" dy="14.7">+ readDefinitionData()</tspan><tspan x="3607" dy="14.7">+ getClassName()</tspan><tspan x="3607" dy="14.7">+ getLocation()</tspan><tspan x="3607" dy="14.7">+ getGroup()</tspan><tspan x="3607" dy="14.7">+ getGroupOfObj()</tspan><tspan x="3607" dy="14.7">+ hasCheckbox()</tspan><tspan x="3607" dy="14.7">+ getTranslationType()</tspan><tspan x="3607" dy="14.7">+ stopInheritance()</tspan><tspan x="3607" dy="14.7">+ getDevMode()</tspan><tspan x="3607" dy="14.7">and 38 more...</tspan><tspan x="3607" dy="14.7">+ getRepositoryObjectTypes</tspan><tspan x="3607" dy="14.7">ForComponent()</tspan><tspan x="3607" dy="14.7">+ getComponentForType()</tspan><tspan x="3607" dy="14.7">+ getGroupedRepositoryObject</tspan><tspan x="3607" dy="14.7">Types()</tspan><tspan x="3607" dy="14.7"># readPluginData()</tspan><tspan x="3607" dy="14.7"># parsePluginData()</tspan><tspan x="3607" dy="14.7"># getGroupedPluginObjectTypes()</tspan></text></g>

<g id="ILIAS"><rect class="n" x="3189" y="1004" width="139" height="236"/><line class="d" x1="3189" y1="1029" x2="3328" y2="1029"/><line class="d" x1="3189" y1="1112" x2="3328" y2="1112"/>
<text class="c" x="3258.5" y="1021">ILIAS</text>
<text x="3197" y="1043"><tspan x="3197">+ $account</tspan><tspan x="3197" dy="14.7">+ $ini</tspan><tspan x="3197" dy="14.7">+ $ini_ilias</tspan><tspan x="3197" dy="14.7">+ $db</tspan><tspan x="3197" dy="14.7">+ $error_obj</tspan></text>
<text x="3197" y="1126"><tspan x="3197">+ __construct()</tspan><tspan x="3197" dy="14.7">+ getSetting()</tspan><tspan x="3197" dy="14.7">+ deleteSetting()</tspan><tspan x="3197" dy="14.7">+ getAllSettings()</tspan><tspan x="3197" dy="14.7">+ setSetting()</tspan><tspan x="3197" dy="14.7">+ getClientId()</tspan><tspan x="3197" dy="14.7">+ raiseError()</tspan><tspan x="3197" dy="14.7"># getSettingObject()</tspan></text></g>

<g id="Request"><rect class="n" x="2956" y="1070" width="158" height="105"/><line class="d" x1="2956" y1="1110" x2="3114" y2="1110"/><line class="d" x1="2956" y1="1135" x2="3114" y2="1135"/>
<text class="c" x="3035" y="1085">ILIAS\Cache\Container<tspan x="3035" dy="14.7">\Request</tspan></text>
<text x="2964" y="1149"><tspan x="2964">+ getContainerKey()</tspan><tspan x="2964" dy="14.7">+ isForced()</tspan></text></g>

<g id="ilCachedLanguage"><rect class="n" x="2769" y="1631" width="139" height="295"/><line class="d" x1="2769" y1="1656" x2="2908" y2="1656"/><line class="d" x1="2769" y1="1681" x2="2908" y2="1681"/>
<text class="c" x="2838.5" y="1648">ilCachedLanguage</text>
<text x="2777" y="1695"><tspan x="2777">+ getContainerKey()</tspan><tspan x="2777" dy="14.7">+ isForced()</tspan><tspan x="2777" dy="14.7">+ isActive()</tspan><tspan x="2777" dy="14.7">+ writeToCache()</tspan><tspan x="2777" dy="14.7">+ deleteInCache()</tspan><tspan x="2777" dy="14.7">+ flush()</tspan><tspan x="2777" dy="14.7">+ setLanguageKey()</tspan><tspan x="2777" dy="14.7">+ getLanguageKey()</tspan><tspan x="2777" dy="14.7">+ setLoaded()</tspan><tspan x="2777" dy="14.7">+ getLoaded()</tspan><tspan x="2777" dy="14.7">+ setTranslations()</tspan><tspan x="2777" dy="14.7">+ getTranslations()</tspan><tspan x="2777" dy="14.7">+ getInstance()</tspan><tspan x="2777" dy="14.7"># __construct()</tspan><tspan x="2777" dy="14.7"># readFromCache()</tspan><tspan x="2777" dy="14.7"># readFromDB()</tspan></text></g>

<g id="LanguageLanguage"><rect class="n" x="3073" y="1721" width="145" height="119"/><line class="d" x1="3073" y1="1746" x2="3218" y2="1746"/><line class="d" x1="3073" y1="1771" x2="3218" y2="1771"/>
<text class="c" x="3145.5" y="1738">ILIAS\Language\Language</text>
<text x="3081" y="1785"><tspan x="3081">+ txt()</tspan><tspan x="3081" dy="14.7">+ loadLanguageModule()</tspan><tspan x="3081" dy="14.7">+ getLangKey()</tspan><tspan x="3081" dy="14.7">+ toJS()</tspan></text></g>

<g id="ilLanguage"><rect class="n" x="2866" y="2036" width="179" height="326"/><line class="d" x1="2866" y1="2061" x2="3045" y2="2061"/><line class="d" x1="2866" y1="2086" x2="3045" y2="2086"/>
<text class="c" x="2955.5" y="2053">ilLanguage</text>
<text x="2874" y="2100"><tspan x="2874">+ __construct()</tspan><tspan x="2874" dy="14.7">+ getLangKey()</tspan><tspan x="2874" dy="14.7">+ getDefaultLanguage()</tspan><tspan x="2874" dy="14.7">+ getTextDirection()</tspan><tspan x="2874" dy="14.7">+ getContentLanguage()</tspan><tspan x="2874" dy="14.7">+ txtlng()</tspan><tspan x="2874" dy="14.7">+ txt()</tspan><tspan x="2874" dy="14.7">+ exists()</tspan><tspan x="2874" dy="14.7">+ loadLanguageModule()</tspan><tspan x="2874" dy="14.7">+ getInstalledLanguages()</tspan><tspan x="2874" dy="14.7">and 7 more...</tspan><tspan x="2874" dy="14.7">+ _getInstalledLanguages()</tspan><tspan x="2874" dy="14.7">+ _lookupEntry()</tspan><tspan x="2874" dy="14.7">+ lookupId()</tspan><tspan x="2874" dy="14.7">+ getFallbackInstance()</tspan><tspan x="2874" dy="14.7">+ getGlobalInstance()</tspan><tspan x="2874" dy="14.7"># logUsage()</tspan><tspan x="2874" dy="14.7"># isUsageLogEnabled()</tspan></text></g>

<g id="TranslationsRepository"><rect class="s" x="3418" y="2161" width="155" height="76"/><line class="ds" x1="3418" y1="2186" x2="3573" y2="2186"/><line class="ds" x1="3418" y1="2211" x2="3573" y2="2211"/><text class="c" x="3495.5" y="2178">TranslationsRepository</text></g>
<g id="LOMServices"><rect class="s" x="3599" y="2161" width="101" height="76"/><line class="ds" x1="3599" y1="2186" x2="3700" y2="2186"/><line class="ds" x1="3599" y1="2211" x2="3700" y2="2211"/><text class="c" x="3649.5" y="2178">LOMServices</text></g>

<g id="Properties"><rect class="n" x="3723" y="2065" width="235" height="266"/><line class="d" x1="3723" y1="2105" x2="3958" y2="2105"/><line class="d" x1="3723" y1="2130" x2="3958" y2="2130"/>
<text class="c" x="3840.5" y="2080">ILIAS\ILIASObject\Properties<tspan x="3840.5" dy="14.7">\Properties</tspan></text>
<text x="3731" y="2144"><tspan x="3731">+ __construct()</tspan><tspan x="3731" dy="14.7">+ storeCoreProperties()</tspan><tspan x="3731" dy="14.7">+ getOwner()</tspan><tspan x="3731" dy="14.7">+ withOwner()</tspan><tspan x="3731" dy="14.7">+ getImportId()</tspan><tspan x="3731" dy="14.7">+ withImportId()</tspan><tspan x="3731" dy="14.7">+ getPropertyTitleAndDescription()</tspan><tspan x="3731" dy="14.7">+ withPropertyTitleAndDescription()</tspan><tspan x="3731" dy="14.7">+ storePropertyTitleAndDescription()</tspan><tspan x="3731" dy="14.7">+ getPropertyIsOnline()</tspan><tspan x="3731" dy="14.7">and 16 more...</tspan><tspan x="3731" dy="14.7">- updateMetadataForTitleAnd</tspan><tspan x="3731" dy="14.7">Description()</tspan></text></g>

<g id="Aggregator"><rect class="n" x="3983" y="2138" width="193" height="120"/><line class="d" x1="3983" y1="2178" x2="4176" y2="2178"/><line class="d" x1="3983" y1="2203" x2="4176" y2="2203"/>
<text class="c" x="4079.5" y="2153">ILIAS\ILIASObject\Properties<tspan x="4079.5" dy="14.7">\Aggregator</tspan></text>
<text x="3991" y="2217"><tspan x="3991">+ __construct()</tspan><tspan x="3991" dy="14.7">+ getFor()</tspan><tspan x="3991" dy="14.7">+ preload()</tspan></text></g>

<g id="DateFormatFactory"><rect class="s" x="3781" y="2698" width="134" height="75"/><line class="ds" x1="3781" y1="2723" x2="3915" y2="2723"/><line class="ds" x1="3781" y1="2748" x2="3915" y2="2748"/><text class="c" x="3848" y="2715">DateFormatFactory</text></g>

<g id="ilObject"><rect class="n" x="3937" y="2426" width="227" height="619"/><line class="d" x1="3937" y1="2451" x2="4164" y2="2451"/><line class="d" x1="3937" y1="2476" x2="4164" y2="2476"/>
<text class="c" x="4050.5" y="2443">ilObject</text>
<text x="3945" y="2490"><tspan x="3945">+ getObjectProperties()</tspan><tspan x="3945" dy="14.7">+ flushObjectProperties()</tspan><tspan x="3945" dy="14.7">+ withReferences()</tspan><tspan x="3945" dy="14.7">+ processAutoRating()</tspan><tspan x="3945" dy="14.7">+ read()</tspan><tspan x="3945" dy="14.7">+ getId()</tspan><tspan x="3945" dy="14.7">+ setId()</tspan><tspan x="3945" dy="14.7">+ setRefId()</tspan><tspan x="3945" dy="14.7">+ getRefId()</tspan><tspan x="3945" dy="14.7">+ getType()</tspan><tspan x="3945" dy="14.7">and 40 more...</tspan><tspan x="3945" dy="14.7">+ _lookupObjIdByImportId()</tspan><tspan x="3945" dy="14.7">+ _lookupImportId()</tspan><tspan x="3945" dy="14.7">+ _lookupOwnerName()</tspan><tspan x="3945" dy="14.7">+ _getIdForImportId()</tspan><tspan x="3945" dy="14.7">+ _getAllReferences()</tspan><tspan x="3945" dy="14.7">+ _lookupTitle()</tspan><tspan x="3945" dy="14.7">+ lookupOfflineStatus()</tspan><tspan x="3945" dy="14.7">+ _lookupOwner()</tspan><tspan x="3945" dy="14.7">+ _getIdsForTitle()</tspan><tspan x="3945" dy="14.7">+ _lookupDescription()</tspan><tspan x="3945" dy="14.7">and 27 more...</tspan><tspan x="3945" dy="14.7"># doMDUpdateListener()</tspan><tspan x="3945" dy="14.7"># beforeMDUpdateListener()</tspan><tspan x="3945" dy="14.7"># doCreateMetaData()</tspan><tspan x="3945" dy="14.7"># beforeCreateMetaData()</tspan><tspan x="3945" dy="14.7"># doUpdateMetaData()</tspan><tspan x="3945" dy="14.7"># beforeUpdateMetaData()</tspan><tspan x="3945" dy="14.7"># doDeleteMetaData()</tspan><tspan x="3945" dy="14.7"># beforeDeleteMetaData()</tspan><tspan x="3945" dy="14.7"># handleAutoRating()</tspan><tspan x="3945" dy="14.7"># hasAutoRating()</tspan><tspan x="3945" dy="14.7">- appendCopyInfoToTranslations()</tspan><tspan x="3945" dy="14.7">- getCallbackForTitlesPerLanguage</tspan><tspan x="3945" dy="14.7">Transformation()</tspan><tspan x="3945" dy="14.7">- appendNumberOfCopiesToTitle()</tspan><tspan x="3945" dy="14.7">- isTitleUnique()</tspan><tspan x="3945" dy="14.7">- buildTitleWithoutCopySuffix()</tspan></text></g>

<g id="ilObjUser"><rect class="n" x="3836" y="3109" width="200" height="765"/><line class="d" x1="3836" y1="3134" x2="4036" y2="3134"/><line class="d" x1="3836" y1="3467" x2="4036" y2="3467"/>
<text class="c" x="3936" y="3126">ilObjUser</text>
<text x="3844" y="3148"><tspan x="3844">+ $login</tspan><tspan x="3844" dy="14.7">+ $gender</tspan><tspan x="3844" dy="14.7">+ $utitle</tspan><tspan x="3844" dy="14.7">+ $firstname</tspan><tspan x="3844" dy="14.7">+ $lastname</tspan><tspan x="3844" dy="14.7">+ $fullname</tspan><tspan x="3844" dy="14.7">+ $department</tspan><tspan x="3844" dy="14.7">+ $street</tspan><tspan x="3844" dy="14.7">+ $city</tspan><tspan x="3844" dy="14.7">+ $country</tspan><tspan x="3844" dy="14.7">and 12 more...</tspan><tspan x="3844" dy="14.7"># $time_limit_message</tspan><tspan x="3844" dy="14.7"># $last_login</tspan><tspan x="3844" dy="14.7"># $passwd</tspan><tspan x="3844" dy="14.7"># $password_encoding_type</tspan><tspan x="3844" dy="14.7"># $password_salt</tspan><tspan x="3844" dy="14.7"># $birthday</tspan><tspan x="3844" dy="14.7"># $second_email</tspan><tspan x="3844" dy="14.7"># $inactivation_date</tspan><tspan x="3844" dy="14.7"># $org_units</tspan><tspan x="3844" dy="14.7"># $last_profile_prompt</tspan><tspan x="3844" dy="14.7"># $avatar_rid</tspan></text>
<text x="3844" y="3481"><tspan x="3844">+ __construct()</tspan><tspan x="3844" dy="14.7">+ read()</tspan><tspan x="3844" dy="14.7">+ getPasswordEncodingType()</tspan><tspan x="3844" dy="14.7">+ setPasswordEncodingType()</tspan><tspan x="3844" dy="14.7">+ getPasswordSalt()</tspan><tspan x="3844" dy="14.7">+ setPasswordSalt()</tspan><tspan x="3844" dy="14.7">+ assignData()</tspan><tspan x="3844" dy="14.7">+ saveAsNew()</tspan><tspan x="3844" dy="14.7">+ update()</tspan><tspan x="3844" dy="14.7">+ writeAccepted()</tspan><tspan x="3844" dy="14.7">and 169 more...</tspan><tspan x="3844" dy="14.7">+ _lookupFullname()</tspan><tspan x="3844" dy="14.7">+ _lookupEmail()</tspan><tspan x="3844" dy="14.7">+ _lookupGender()</tspan><tspan x="3844" dy="14.7">+ _lookupClientIP()</tspan><tspan x="3844" dy="14.7">+ _lookupName()</tspan><tspan x="3844" dy="14.7">+ _lookupFields()</tspan><tspan x="3844" dy="14.7">+ _lookupLogin()</tspan><tspan x="3844" dy="14.7">+ _lookupExternalAccount()</tspan><tspan x="3844" dy="14.7">+ _lookupId()</tspan><tspan x="3844" dy="14.7">+ _lookupLastLogin()</tspan><tspan x="3844" dy="14.7">and 62 more...</tspan><tspan x="3844" dy="14.7"># buildTextFromArray()</tspan><tspan x="3844" dy="14.7"># readMultiTextFields()</tspan><tspan x="3844" dy="14.7"># deleteMultiTextFields()</tspan><tspan x="3844" dy="14.7">- _lookup()</tspan><tspan x="3844" dy="14.7">- getLoginFromAuth()</tspan></text></g>

<g id="ilTreeImplementation"><rect class="n" x="4399" y="1012" width="178" height="222"/><line class="d" x1="4399" y1="1037" x2="4577" y2="1037"/><line class="d" x1="4399" y1="1062" x2="4577" y2="1062"/>
<text class="c" x="4488" y="1029">ilTreeImplementation</text>
<text x="4407" y="1076"><tspan x="4407">+ getSubTreeIds()</tspan><tspan x="4407" dy="14.7">+ getSubTreeQuery()</tspan><tspan x="4407" dy="14.7">+ getTrashSubTreeQuery()</tspan><tspan x="4407" dy="14.7">+ getRelation()</tspan><tspan x="4407" dy="14.7">+ getPathIds()</tspan><tspan x="4407" dy="14.7">+ insertNode()</tspan><tspan x="4407" dy="14.7">+ deleteTree()</tspan><tspan x="4407" dy="14.7">+ moveToTrash()</tspan><tspan x="4407" dy="14.7">+ moveTree()</tspan><tspan x="4407" dy="14.7">+ getSubtreeInfo()</tspan><tspan x="4407" dy="14.7">+ validateParentRelations()</tspan></text></g>

<g id="ilAppEventHandler"><rect class="n" x="4602" y="1070" width="130" height="105"/><line class="d" x1="4602" y1="1095" x2="4732" y2="1095"/><line class="d" x1="4602" y1="1120" x2="4732" y2="1120"/>
<text class="c" x="4667" y="1087">ilAppEventHandler</text>
<text x="4610" y="1134"><tspan x="4610">+ __construct()</tspan><tspan x="4610" dy="14.7">+ raise()</tspan><tspan x="4610" dy="14.7"># initListeners()</tspan></text></g>

<g id="ilTree"><rect class="n" x="4556" y="1589" width="223" height="383"/><line class="d" x1="4556" y1="1614" x2="4779" y2="1614"/><line class="d" x1="4556" y1="1639" x2="4779" y2="1639"/>
<text class="c" x="4667.5" y="1606">ilTree</text>
<text x="4564" y="1631"># DEFAULT_GAP</text>
<text x="4564" y="1653"><tspan x="4564">+ __construct()</tspan><tspan x="4564" dy="14.7">+ initTreeImplementation()</tspan><tspan x="4564" dy="14.7">+ getTreeImplementation()</tspan><tspan x="4564" dy="14.7">+ useCache()</tspan><tspan x="4564" dy="14.7">+ getDepthCache()</tspan><tspan x="4564" dy="14.7">+ getParentCache()</tspan><tspan x="4564" dy="14.7">+ initLangCode()</tspan><tspan x="4564" dy="14.7">+ getTreeTable()</tspan><tspan x="4564" dy="14.7">+ getObjectDataTable()</tspan><tspan x="4564" dy="14.7">+ getTreePk()</tspan><tspan x="4564" dy="14.7">and 60 more...</tspan><tspan x="4564" dy="14.7">+ lookupTreesForNode()</tspan><tspan x="4564" dy="14.7">+ _removeEntry()</tspan><tspan x="4564" dy="14.7"># isCacheUsed()</tspan><tspan x="4564" dy="14.7"># resetInTreeCache()</tspan><tspan x="4564" dy="14.7"># fetchTranslationFromObject</tspan><tspan x="4564" dy="14.7">DataCache()</tspan><tspan x="4564" dy="14.7"># __renumber()</tspan><tspan x="4564" dy="14.7"># __checkDelete()</tspan><tspan x="4564" dy="14.7"># __getSubTreeByParentRelation()</tspan><tspan x="4564" dy="14.7"># __validateSubtrees()</tspan><tspan x="4564" dy="14.7"># isRepositoryTree()</tspan></text></g>

<g id="ilRbacReview"><rect class="n" x="5309" y="902" width="217" height="442"/><line class="d" x1="5309" y1="927" x2="5526" y2="927"/><line class="d" x1="5309" y1="952" x2="5526" y2="952"/>
<text class="c" x="5417.5" y="919">ilRbacReview</text>
<text x="5317" y="966"><tspan x="5317">+ __construct()</tspan><tspan x="5317" dy="14.7">+ roleExists()</tspan><tspan x="5317" dy="14.7">+ getParentRoleIds()</tspan><tspan x="5317" dy="14.7">+ getRoleListByObject()</tspan><tspan x="5317" dy="14.7">+ getAssignableRoles()</tspan><tspan x="5317" dy="14.7">+ getAssignableRolesInSubtree()</tspan><tspan x="5317" dy="14.7">+ getAssignableChildRoles()</tspan><tspan x="5317" dy="14.7">+ getNumberOfAssignedUsers()</tspan><tspan x="5317" dy="14.7">+ assignedUsers()</tspan><tspan x="5317" dy="14.7">+ isAssigned()</tspan><tspan x="5317" dy="14.7">and 43 more...</tspan><tspan x="5317" dy="14.7">+ _getOperationIdsByName()</tspan><tspan x="5317" dy="14.7">+ _getOperationIdByName()</tspan><tspan x="5317" dy="14.7">+ lookupCreateOperationIds()</tspan><tspan x="5317" dy="14.7">+ _getOperationList()</tspan><tspan x="5317" dy="14.7">+ _groupOperationsByClass()</tspan><tspan x="5317" dy="14.7">+ _getCustomRBACOperationId()</tspan><tspan x="5317" dy="14.7">+ _isRBACOperation()</tspan><tspan x="5317" dy="14.7"># __getParentRoles()</tspan><tspan x="5317" dy="14.7"># __setTemplateFilter()</tspan><tspan x="5317" dy="14.7"># __setRoleType()</tspan><tspan x="5317" dy="14.7"># __setProtectedStatus()</tspan><tspan x="5317" dy="14.7">- getAssignableRolesGenerator()</tspan><tspan x="5317" dy="14.7">- setRoleTypeAndProtection()</tspan><tspan x="5317" dy="14.7">- buildRoleType()</tspan><tspan x="5317" dy="14.7">- buildProtectionByStringValue()</tspan></text></g>

<g id="ilCronDeleteInactiveUserReminderMail"><rect class="n" x="5715" y="1371" width="210" height="192"/><line class="d" x1="5715" y1="1411" x2="5925" y2="1411"/><line class="d" x1="5715" y1="1436" x2="5925" y2="1436"/>
<text class="c" x="5820" y="1386">ilCronDeleteInactiveUser<tspan x="5820" dy="14.7">ReminderMail</tspan></text>
<text x="5723" y="1450"><tspan x="5723">+ __construct()</tspan><tspan x="5723" dy="14.7">+ removeEntriesFromTableIf</tspan><tspan x="5723" dy="14.7">LastLoginIsNewer()</tspan><tspan x="5723" dy="14.7">+ sendReminderMailIfNeeded()</tspan><tspan x="5723" dy="14.7">+ flushDataTable()</tspan><tspan x="5723" dy="14.7">+ removeSingleUserFromTable()</tspan><tspan x="5723" dy="14.7">- persistMailSent()</tspan><tspan x="5723" dy="14.7">- sendReminder()</tspan></text></g>

<g id="ilRbacAdmin"><rect class="n" x="5351" y="1655" width="189" height="251"/><line class="d" x1="5351" y1="1680" x2="5540" y2="1680"/><line class="d" x1="5351" y1="1705" x2="5540" y2="1705"/>
<text class="c" x="5445.5" y="1672">ilRbacAdmin</text>
<text x="5359" y="1719"><tspan x="5359">+ __construct()</tspan><tspan x="5359" dy="14.7">+ setBlockedStatus()</tspan><tspan x="5359" dy="14.7">+ removeUser()</tspan><tspan x="5359" dy="14.7">+ deleteRole()</tspan><tspan x="5359" dy="14.7">+ deleteTemplate()</tspan><tspan x="5359" dy="14.7">+ deleteLocalRole()</tspan><tspan x="5359" dy="14.7">+ assignUserLimited()</tspan><tspan x="5359" dy="14.7">+ assignUser()</tspan><tspan x="5359" dy="14.7">+ deassignUser()</tspan><tspan x="5359" dy="14.7">+ grantPermission()</tspan><tspan x="5359" dy="14.7">and 18 more...</tspan><tspan x="5359" dy="14.7"># applyMovedObjectDidactic</tspan><tspan x="5359" dy="14.7">Templates()</tspan></text></g>

<g id="ilForumNotificationMailData"><rect class="n" x="5" y="2624" width="193" height="222"/><line class="d" x1="5" y1="2649" x2="198" y2="2649"/><line class="d" x1="5" y1="2674" x2="198" y2="2674"/>
<text class="c" x="101.5" y="2641">ilForumNotificationMailData</text>
<text x="13" y="2688"><tspan x="13">+ getRefId()</tspan><tspan x="13" dy="14.7">+ getObjId()</tspan><tspan x="13" dy="14.7">+ getForumId()</tspan><tspan x="13" dy="14.7">+ closestContainer()</tspan><tspan x="13" dy="14.7">+ providesClosestContainer()</tspan><tspan x="13" dy="14.7">+ getForumTitle()</tspan><tspan x="13" dy="14.7">+ getThreadId()</tspan><tspan x="13" dy="14.7">+ getThreadTitle()</tspan><tspan x="13" dy="14.7">+ getPostId()</tspan><tspan x="13" dy="14.7">+ getPostTitle()</tspan><tspan x="13" dy="14.7">and 14 more...</tspan></text></g>

<g id="ilForumCronNotificationDataProvider"><rect class="g" x="1691" y="3334" width="190" height="324"/><line class="d" x1="1691" y1="3374" x2="1881" y2="3374"/><line class="d" x1="1691" y1="3428" x2="1881" y2="3428"/>
<text class="c" x="1786" y="3349">ilForumCronNotificationData<tspan x="1786" dy="14.7">Provider</tspan></text>
<text x="1699" y="3388"><tspan x="1699">- $post_message</tspan><tspan x="1699" dy="14.7">- $post_date</tspan><tspan x="1699" dy="14.7">- $update_user_name</tspan></text>
<text x="1699" y="3442"><tspan x="1699">+ __construct()</tspan><tspan x="1699" dy="14.7">+ addRecipient()</tspan><tspan x="1699" dy="14.7">+ getCronRecipients()</tspan><tspan x="1699" dy="14.7">+ getRefId()</tspan><tspan x="1699" dy="14.7">+ getObjId()</tspan><tspan x="1699" dy="14.7">+ getForumId()</tspan><tspan x="1699" dy="14.7">+ closestContainer()</tspan><tspan x="1699" dy="14.7">+ providesClosestContainer()</tspan><tspan x="1699" dy="14.7">+ getForumTitle()</tspan><tspan x="1699" dy="14.7">+ getThreadId()</tspan><tspan x="1699" dy="14.7">and 20 more...</tspan><tspan x="1699" dy="14.7"># read()</tspan><tspan x="1699" dy="14.7">- readAttachments()</tspan><tspan x="1699" dy="14.7">- getAuthorInformation()</tspan></text></g>
</svg>
